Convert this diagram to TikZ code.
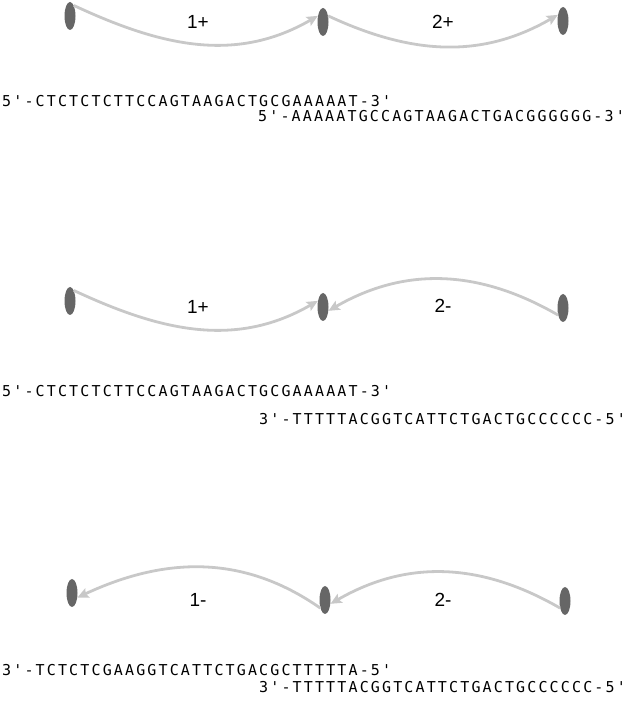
\documentclass[tikz,border=0pt]{standalone}
\usepackage{fontspec}
\setmainfont{Liberation Sans}
\newfontfamily\seqfont{DejaVu Sans Mono}[LetterSpace=14.3]
\usepackage{tikz}
\usetikzlibrary{arrows.meta, shapes.geometric}
\definecolor{sitegray}{HTML}{666666}
\definecolor{linkgray}{HTML}{C8C8C8}

\begin{document}
\begin{tikzpicture}[x=1pt, y=1pt,
    site/.style={ellipse, fill=sitegray, minimum width=11pt, minimum height=28pt, inner sep=0pt},
    link/.style={draw=linkgray, line width=2.8pt, -{Stealth[length=11pt, width=10pt, inset=2pt]}},
    lab/.style={font=\fontsize{19}{21}\selectfont, inner sep=0pt},
    seq/.style={anchor=west, font=\seqfont\fontsize{15}{17}\selectfont, inner sep=0pt}]
            \useasboundingbox (0, 0) rectangle (630, 706);

            % row 1: 1+ 2+
            \node[site] at (70, 690)   (n11) {};
            \node[site] at (323, 684)  (n12) {};
            \node[site] at (563, 685)  (n13) {};
            \draw [link] (n11.70) to[out=-25, in=210] (n12.130);
            \draw [link] (n12.50) to[out=-25, in=210] (n13.130);
            \node[lab] at (198, 684)   (l11) {1+};
            \node[lab] at (443, 684)   (l12) {2+};
            \node[seq] at (2, 605)     (s11) {5'-CTCTCTCTTCCAGTAAGACTGCGAAAAAT-3'};
            \node[seq] at (258, 589.5) (s12) {5'-AAAAATGCCAGTAAGACTGACGGGGGG-3'};

            % row 2: 1+ 2-
            \node[site] at (70, 405)   (n21) {};
            \node[site] at (323, 399)  (n22) {};
            \node[site] at (563, 398)  (n23) {};
            \draw [link] (n21.70) to[out=-25, in=210] (n22.130);
            \draw [link] (n23.235) to[out=150, in=30] (n22.-35);
            \node[lab] at (198, 399)   (l21) {1+};
            \node[lab] at (443, 400)   (l22) {2-};
            \node[seq] at (2, 315)     (s21) {5'-CTCTCTCTTCCAGTAAGACTGCGAAAAAT-3'};
            \node[seq] at (259, 287)   (s22) {3'-TTTTTACGGTCATTCTGACTGCCCCCC-5'};

            % row 3: 1- 2-
            \node[site] at (72, 113)   (n31) {};
            \node[site] at (325, 106)  (n32) {};
            \node[site] at (565, 105)  (n33) {};
            \draw [link] (n32.240) to[out=145, in=25] (n31.-40);
            \draw [link] (n33.235) to[out=150, in=30] (n32.-35);
            \node[lab] at (198, 106)   (l31) {1-};
            \node[lab] at (443, 106)   (l32) {2-};
            \node[seq] at (2, 35.5)    (s31) {3'-TCTCTCGAAGGTCATTCTGACGCTTTTTA-5'};
            \node[seq] at (259, 18.5)  (s32) {3'-TTTTTACGGTCATTCTGACTGCCCCCC-5'};
        \end{tikzpicture}
\end{document}
